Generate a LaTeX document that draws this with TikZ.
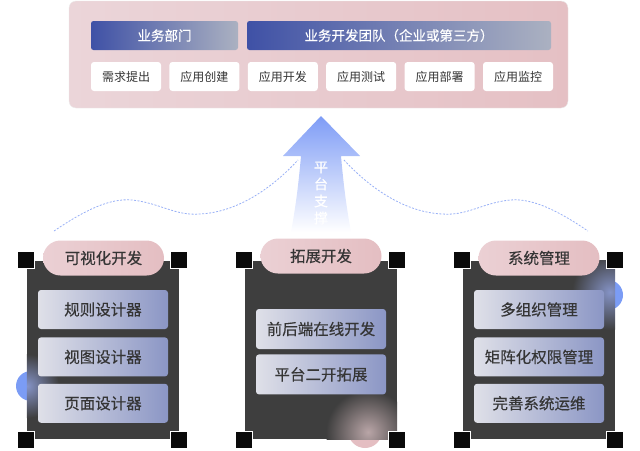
\documentclass[tikz,border=0pt]{standalone}
\usepackage{fontspec}
\setmainfont{Noto Sans CJK SC}
\newfontfamily\medcjk{Noto Sans CJK SC}[FakeBold=0.35]
\usetikzlibrary{positioning}
\definecolor{barblue}{HTML}{3F51A6}
\definecolor{bargray}{HTML}{ABB1C1}
\definecolor{topleft}{HTML}{EBD5D9}
\definecolor{topright}{HTML}{E5C0C4}
\definecolor{pinkl}{HTML}{EBD0D4}
\definecolor{pinkr}{HTML}{E4BEC2}
\definecolor{iteml}{HTML}{DFE0E8}
\definecolor{itemr}{HTML}{8B96C5}
\definecolor{panelgray}{HTML}{3E3E3E}
\definecolor{textgray}{HTML}{353535}
\definecolor{dotblue}{HTML}{98B0F6}
\definecolor{arrowblue}{HTML}{7E9CF6}
\definecolor{ballblue}{HTML}{7B9CF5}
\definecolor{glowblue}{HTML}{8593C6}
\definecolor{glowpink}{HTML}{B9A5A7}

\begin{document}
\begin{tikzpicture}[x=1pt, y=-1pt, node distance=8pt, every node/.style={inner sep=0pt, text=textgray}, bar/.style={rounded corners=2.5pt, left color=barblue, right color=bargray, text=white, minimum height=29pt, font=\medcjk\fontsize{13.5}{15}\selectfont}, taskbox/.style={rounded corners=3pt, fill=white, minimum width=70pt, minimum height=29pt, font=\fontsize{12}{14}\selectfont}, panel/.style={fill=panelgray, minimum width=152pt, minimum height=178pt}, pill/.style={rounded corners=17.5pt, left color=pinkl, right color=pinkr, minimum width=121pt, minimum height=35pt, font=\medcjk\fontsize{15.5}{17}\selectfont}, item/.style={rounded corners=3pt, left color=iteml, right color=itemr, minimum width=130pt, minimum height=39pt, font=\medcjk\fontsize{15.5}{17}\selectfont}, cornersq/.style={fill=black!96, draw=white, line width=0.8pt, minimum size=17pt}, route/.style={dotblue, line width=0.8pt, dash pattern=on 2pt off 1.5pt}]
\useasboundingbox (0,0) rectangle (640,450);
% top: business side
\node[draw=black!8, rounded corners=7pt, left color=topleft, right color=topright, minimum width=499pt, minimum height=107pt] (business) at (318.5,54.5) {};
\node[bar, minimum width=147pt] (dept) at (164.5,35.5) {业务部门};
\node[bar, minimum width=304pt] (team) at (399,35.5) {业务开发团队（企业或第三方）};
\node[taskbox] (need) at (126,76.5) {需求提出};
\node[taskbox, right=of need] (create) {应用创建};
\node[taskbox, right=of create] (develop) {应用开发};
\node[taskbox, right=of develop] (test) {应用测试};
\node[taskbox, right=of test] (deploy) {应用部署};
\node[taskbox, right=of deploy] (monitor) {应用监控};
% platform arrow
\shade[top color=arrowblue, bottom color=white] (321,116) -- (360,156) -- (341,156) .. controls (344,190) and (347,210) .. (351,232) -- (291,232) .. controls (295,210) and (298,190) .. (301,156) -- (283,156) -- cycle;
\node[text=white, align=center, font=\medcjk\fontsize{14}{17}\selectfont] (support) at (321,193) {平\\台\\支\\撑};
\coordinate (leftend) at (54,231); \coordinate (lefttop) at (298,160);
\coordinate (righttop) at (344,160); \coordinate (rightend) at (588,231);
\draw[route] (leftend) .. controls (85,210) and (110,198) .. (132,200) .. controls (160,203) and (175,216) .. (200,214) .. controls (240,212) and (275,185) .. (lefttop);
\draw[route] (righttop) .. controls (367,185) and (402,212) .. (442,214) .. controls (467,216) and (482,203) .. (510,200) .. controls (532,198) and (557,210) .. (rightend);
% balls behind panels
\fill[ballblue] (31,386) circle (15pt);
\fill[ballblue] (608,295) circle (15pt);
\fill[pinkr] (365,431) circle (17pt);
% panels
\node[panel] (visual) at (103,350) {};
\node[panel] (extend) at (321,350) {};
\node[panel] (system) at (539,350) {};
\begin{scope} \clip (visual.south west) rectangle (visual.north east); \shade[inner color=glowblue, outer color=panelgray] (27,386) circle (32pt); \end{scope}
\begin{scope} \clip (extend.south west) rectangle (extend.north east); \shade[inner color=glowpink, outer color=panelgray] (368,432) circle (42pt); \end{scope}
\begin{scope} \clip (system.south west) rectangle (system.north east); \shade[inner color=glowblue, outer color=panelgray] (610,292) circle (38pt); \end{scope}
% items
\node[item] (rule) at (103,309.5) {规则设计器};
\node[item, below=of rule] (view) {视图设计器};
\node[item, below=7pt of view] (page) {页面设计器};
\node[item, minimum height=40pt] (online) at (321,329) {前后端在线开发};
\node[item, minimum height=40pt, below=5pt of online] (second) {平台二开拓展};
\node[item] (org) at (539,309.5) {多组织管理};
\node[item, below=of org] (matrix) {矩阵化权限管理};
\node[item, below=7pt of matrix] (ops) {完善系统运维};
% pills
\node[pill] (visualtag) at (103.5,258) {可视化开发};
\node[pill] (extendtag) at (321,256) {拓展开发};
\node[pill] (systemtag) at (539,258) {系统管理};
% corner squares
\foreach \px [count=\i] in {25.5,178.5,243.5,396.5,462,614.5}
  \foreach \py [count=\j] in {260,439.5}
    \node[cornersq] (sq-\i-\j) at (\px,\py) {};
\end{tikzpicture}
\end{document}
